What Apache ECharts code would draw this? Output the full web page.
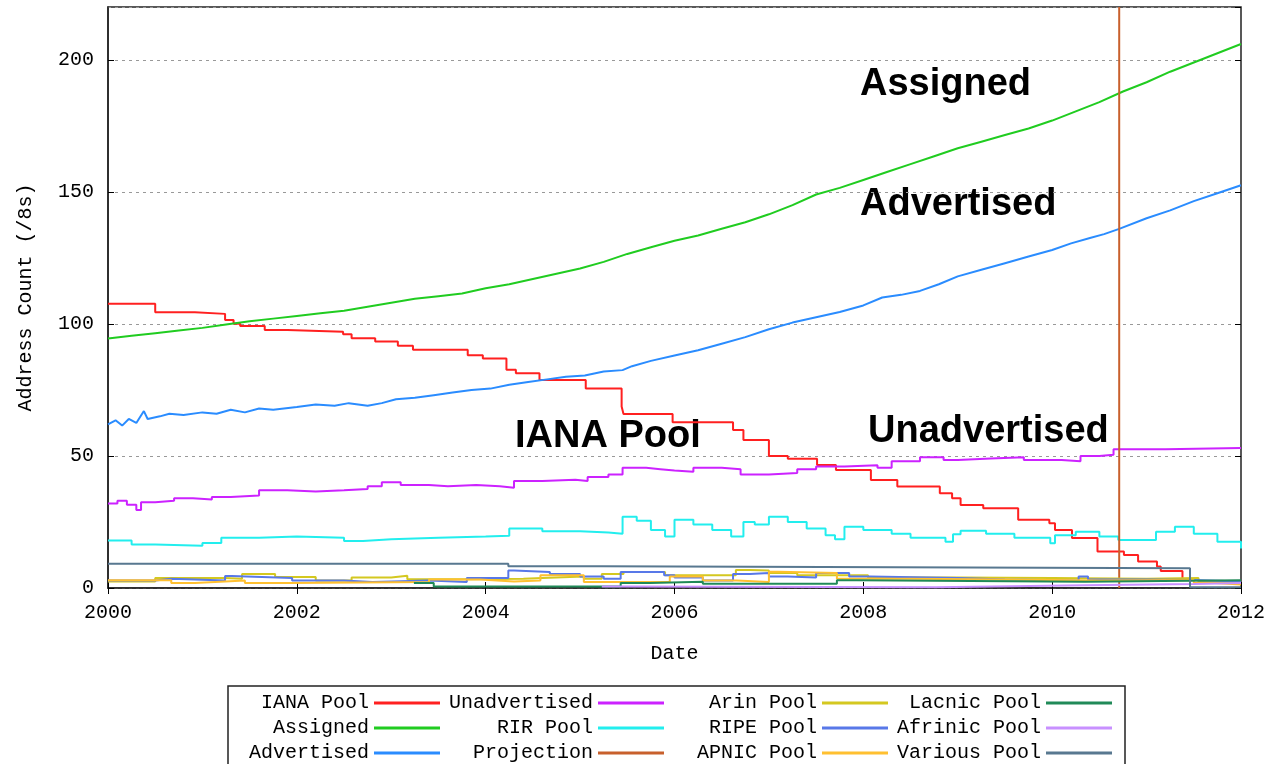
<!DOCTYPE html>
<html>
<head>
<meta charset="utf-8">
<script src="https://cdn.jsdelivr.net/npm/echarts@6/dist/echarts.min.js"></script>
<style>
  html, body { margin: 0; padding: 0; background: #fff; }
  #chart { width: 1264px; height: 764px; }
</style>
</head>
<body>
<div id="chart"></div>
<script>
// x axis ticks (years) and y range
const yearTicks = [2000, 2002, 2004, 2006, 2008, 2010, 2012];
const countTicks = [0, 50, 100, 150, 200];

// each point: [year, value]; step series change value at that year
const ianaPool = [
  [2000.0, 107.6], [2000.5, 104.4], [2000.92, 103.8], [2001.24, 101.5], [2001.33, 100.1],
  [2001.4, 99.2], [2001.66, 97.7], [2001.9, 97], [2002.49, 96.1], [2002.58, 94.6],
  [2002.83, 93.3], [2003.07, 91.7], [2003.23, 90.2], [2003.81, 88.1], [2003.97, 86.9],
  [2004.22, 82.6], [2004.32, 81.3], [2004.57, 78.8], [2005.06, 75.5], [2005.44, 68.7],
  [2005.46, 65.9], [2005.98, 62.8], [2006.62, 59.8], [2006.73, 56], [2007.0, 50],
  [2007.2, 48.9], [2007.51, 46.6], [2007.71, 44.7], [2008.08, 40.9], [2008.36, 38.4],
  [2008.81, 35.9], [2008.94, 34], [2009.03, 31.4], [2009.27, 30.2], [2009.64, 25.8],
  [2009.97, 24.5], [2010.03, 22], [2010.21, 18.9], [2010.48, 13.8], [2010.76, 12.5],
  [2010.91, 10], [2011.11, 8.1], [2011.15, 6.4], [2011.38, 3]
];
const assigned = [
  [2000.0, 94.5], [2000.25, 95.5], [2000.5, 96.5], [2000.75, 97.5], [2001.0, 98.5],
  [2001.25, 99.8], [2001.5, 101], [2001.75, 102], [2002.0, 103], [2002.25, 104],
  [2002.5, 105], [2002.75, 106.5], [2003.0, 108], [2003.25, 109.5], [2003.5, 110.5],
  [2003.75, 111.5], [2004.0, 113.5], [2004.25, 115], [2004.5, 117], [2004.75, 119],
  [2005.0, 121], [2005.25, 123.5], [2005.5, 126.5], [2005.75, 129], [2006.0, 131.5],
  [2006.25, 133.5], [2006.5, 136], [2006.75, 138.5], [2007.0, 141.5], [2007.25, 145],
  [2007.5, 149], [2007.75, 151.5], [2008.0, 154.5], [2008.25, 157.5], [2008.5, 160.5],
  [2008.75, 163.5], [2009.0, 166.5], [2009.25, 169], [2009.5, 171.5], [2009.75, 174],
  [2010.0, 177], [2010.25, 180.5], [2010.5, 184], [2010.75, 188], [2011.0, 191.5],
  [2011.25, 195.5], [2011.5, 199], [2011.75, 202.5], [2012.0, 206]
];
const advertised = [
  [2000.0, 62], [2000.08, 63.5], [2000.15, 61.5], [2000.22, 64], [2000.3, 62.5],
  [2000.38, 67], [2000.42, 64], [2000.55, 65], [2000.65, 66], [2000.8, 65.5],
  [2001.0, 66.5], [2001.15, 66], [2001.3, 67.5], [2001.45, 66.5], [2001.6, 68],
  [2001.75, 67.5], [2002.0, 68.5], [2002.2, 69.5], [2002.4, 69], [2002.55, 70],
  [2002.75, 69], [2002.9, 70], [2003.05, 71.5], [2003.25, 72], [2003.45, 73],
  [2003.65, 74], [2003.85, 75], [2004.05, 75.5], [2004.25, 77], [2004.45, 78],
  [2004.65, 79], [2004.85, 80], [2005.05, 80.5], [2005.25, 82], [2005.45, 82.5],
  [2005.55, 84], [2005.75, 86], [2006.0, 88], [2006.25, 90], [2006.5, 92.5],
  [2006.75, 95], [2007.0, 98], [2007.25, 100.5], [2007.5, 102.5], [2007.75, 104.5],
  [2008.0, 107], [2008.2, 110], [2008.4, 111], [2008.6, 112.5], [2008.8, 115],
  [2009.0, 118], [2009.25, 120.5], [2009.5, 123], [2009.75, 125.5], [2010.0, 128],
  [2010.2, 130.5], [2010.4, 132.5], [2010.55, 134], [2010.71, 136], [2011.0, 140],
  [2011.25, 143], [2011.5, 146.5], [2011.75, 149.5], [2012.0, 152.5]
];
const unadvertised = [
  [2000.0, 32], [2000.1, 33], [2000.2, 31.5], [2000.3, 29.5], [2000.35, 32.5],
  [2000.5, 33], [2000.7, 34], [2000.9, 33.5], [2001.1, 34.5], [2001.3, 35],
  [2001.6, 37], [2001.9, 36.5], [2002.2, 37], [2002.5, 37.5], [2002.75, 38.5],
  [2002.9, 40], [2003.1, 39], [2003.4, 38.5], [2003.6, 39], [2003.9, 38.5],
  [2004.15, 38], [2004.3, 40.5], [2004.6, 41], [2004.95, 40.5], [2005.08, 42],
  [2005.3, 43], [2005.45, 45.5], [2005.7, 45], [2005.85, 44.5], [2006.0, 44],
  [2006.2, 45.5], [2006.5, 45], [2006.7, 43], [2007.0, 43.5], [2007.3, 45],
  [2007.5, 46], [2007.8, 46.5], [2008.15, 45.5], [2008.3, 48], [2008.6, 49.5],
  [2008.85, 48.5], [2009.0, 49], [2009.35, 49.5], [2009.7, 48.5], [2010.1, 48],
  [2010.3, 50], [2010.5, 50.5], [2010.65, 52.5], [2011.2, 53], [2012.0, 53]
];
const rirPool = [
  [2000.0, 18], [2000.25, 16.5], [2000.5, 16], [2001.0, 17], [2001.2, 19],
  [2001.6, 19.5], [2002.0, 19], [2002.5, 17.8], [2002.7, 18.5], [2003.0, 19],
  [2003.5, 19.5], [2004.0, 19.8], [2004.25, 22.5], [2004.6, 21.5], [2005.0, 21],
  [2005.3, 20.5], [2005.45, 27], [2005.6, 25.5], [2005.75, 22], [2005.9, 19.5],
  [2006.0, 25.8], [2006.2, 24], [2006.4, 22], [2006.6, 19.5], [2006.73, 25],
  [2006.85, 24], [2007.0, 27], [2007.2, 25], [2007.4, 22.5], [2007.6, 20],
  [2007.7, 18.5], [2007.8, 23.2], [2008.0, 22], [2008.3, 20.5], [2008.5, 19],
  [2008.87, 17.5], [2008.95, 20.4], [2009.03, 21.7], [2009.3, 20.5], [2009.6, 19],
  [2009.98, 16.9], [2010.03, 20], [2010.25, 21.3], [2010.5, 19.5], [2010.7, 18.2],
  [2011.1, 21.3], [2011.3, 23.2], [2011.5, 20.5], [2011.75, 17.5], [2012.0, 15]
];
const projection = [[2010.71, 0], [2010.71, 220]];
const arinPool = [
  [2000.0, 2.5], [2000.5, 3.8], [2001.24, 3.5], [2001.42, 5.3], [2001.77, 4.2],
  [2002.2, 2.8], [2002.58, 4.0], [2003.0, 4.6], [2003.17, 3.3], [2003.8, 3.5],
  [2004.4, 3.8], [2004.6, 4.4], [2005.04, 3.5], [2005.23, 5.3], [2005.46, 6.1],
  [2005.9, 4.8], [2006.65, 6.8], [2006.8, 6.6], [2007.0, 5.7], [2007.3, 4.8],
  [2008.05, 4.0], [2009.0, 3.8], [2010.0, 3.5], [2011.0, 3.8], [2011.55, 2.3],
  [2012.0, 2.3]
];
const ripePool = [
  [2000.0, 2.8], [2000.5, 3.5], [2000.67, 2.8], [2001.24, 4.5], [2001.31, 3.8],
  [2001.95, 2.8], [2002.5, 2.3], [2002.8, 2.8], [2003.4, 2.3], [2003.8, 3.8],
  [2004.24, 6.6], [2004.3, 6.1], [2004.68, 5.3], [2005.0, 4.4], [2005.25, 3.5],
  [2005.43, 6.1], [2005.89, 4.8], [2006.0, 4.0], [2006.3, 2.8], [2006.62, 5.3],
  [2006.8, 5.7], [2007.0, 4.4], [2007.2, 4.0], [2007.5, 5.7], [2007.85, 4.4],
  [2008.07, 3.8], [2009.0, 3.2], [2009.5, 2.8], [2010.28, 4.4], [2010.38, 3.2],
  [2011.0, 3.0], [2011.5, 2.5], [2012.0, 2.5]
];
const apnicPool = [
  [2000.0, 2.9], [2000.67, 1.9], [2000.92, 2.5], [2001.24, 2.8], [2001.45, 1.9],
  [2001.91, 2.3], [2003.4, 3.2], [2003.94, 2.5], [2004.3, 2.8], [2004.58, 4.8],
  [2005.04, 2.3], [2005.95, 4.4], [2006.3, 2.8], [2006.66, 2.3], [2007.0, 6.2],
  [2007.1, 5.7], [2007.72, 3.5], [2008.5, 3.2], [2009.5, 2.8], [2010.5, 3.0],
  [2011.5, 1.9], [2011.72, 1.3], [2012.0, 1.3]
];
const lacnicPool = [
  [2003.24, 1.9], [2003.45, 0.6], [2005.23, 0.6], [2005.43, 1.9], [2005.74, 2.4],
  [2006.3, 1.6], [2007.72, 2.9], [2007.93, 2.4], [2010.35, 2.9], [2012.0, 2.9]
];
const afrinicPool = [
  [2005.23, 0.6], [2005.5, 0.3], [2008.77, 1.0], [2010.35, 1.5], [2011.5, 1.9],
  [2012.0, 1.9]
];
const variousPool = [
  [2000.0, 9.2], [2004.24, 8.2], [2005.23, 7.5], [2011.46, 0.3], [2012.0, 0.3]
];

const seriesNames = ['IANA Pool', 'Assigned', 'Advertised', 'Unadvertised', 'RIR Pool', 'Projection',
  'Arin Pool', 'RIPE Pool', 'APNIC Pool', 'Lacnic Pool', 'Afrinic Pool', 'Various Pool'];
const seriesData = [ianaPool, assigned, advertised, unadvertised, rirPool, projection,
  arinPool, ripePool, apnicPool, lacnicPool, afrinicPool, variousPool];
const colors = ['#ff2020', '#20cc20', '#2a8cff', '#cc22ff', '#22eeee', '#c8602c',
  '#d4c820', '#5878e8', '#ffc030', '#208a58', '#c890ff', '#587890'];
// smooth-ish series are drawn as plain lines, the pools as steps
const stepMode = ['end', false, false, 'end', 'end', false,
  'end', 'end', 'end', 'end', 'end', 'end'];

const mono = '"Liberation Mono", "DejaVu Sans Mono", monospace';
const bigFont = 'bold 38px "Liberation Sans", Arial, sans-serif';

let myChart = echarts.init(document.getElementById('chart'));

const series = seriesNames.map(function (name, i) {
  return {
    name: name,
    type: 'line',
    step: stepMode[i],
    data: seriesData[i],
    showSymbol: false,
    color: colors[i],
    lineStyle: { width: 2, color: colors[i] },
    z: 2 + i
  };
});

// four legend columns, text right-aligned before the line sample
const legendCols = [[0, 1, 2], [3, 4, 5], [6, 7, 8], [9, 10, 11]];
const legendRight = [824, 600, 376, 152];
const legends = legendCols.map(function (idx, c) {
  return {
    orient: 'vertical',
    align: 'right',
    right: legendRight[c],
    top: 693,
    padding: 0,
    itemGap: 5,
    itemWidth: 66,
    itemHeight: 3,
    icon: 'rect',
    selectedMode: false,
    data: idx.map(function (k) { return seriesNames[k]; }),
    textStyle: { fontFamily: mono, fontSize: 20, color: '#000', lineHeight: 20 }
  };
});

const axisText = { fontFamily: mono, fontSize: 20, color: '#000' };

myChart.setOption({
  animation: false,
  backgroundColor: '#fff',
  grid: {
    left: 108, right: 23, top: 7, bottom: 176, outerBoundsMode: 'none',
    show: true, borderColor: '#222', borderWidth: 1.5
  },
  legend: legends,
  xAxis: [
    {
      type: 'value', min: 2000, max: 2012, interval: 2,
      name: 'Date', nameLocation: 'middle', nameGap: 56,
      nameTextStyle: axisText,
      axisLine: { lineStyle: { color: '#222', width: 1.5 } },
      axisTick: { inside: true, length: 6, lineStyle: { color: '#000' } },
      axisLabel: { margin: 15, formatter: function (v) { return String(v); }, ...axisText },
      splitLine: { show: false }
    },
    {
      type: 'value', min: 2000, max: 2012, interval: 2, position: 'top',
      axisLine: { show: false },
      axisTick: { inside: true, length: 6, lineStyle: { color: '#000' } },
      axisLabel: { show: false },
      splitLine: { show: false }
    }
  ],
  yAxis: [
    {
      type: 'value', min: 0, max: 220, interval: 50,
      name: 'Address Count (/8s)', nameLocation: 'middle', nameGap: 72,
      nameTextStyle: axisText,
      axisLine: { show: true, lineStyle: { color: '#222', width: 1.5 } },
      axisTick: { show: true, inside: true, length: 6, lineStyle: { color: '#000' } },
      axisLabel: { margin: 14, showMaxLabel: false, ...axisText },
      splitLine: { show: true, lineStyle: { color: '#999', type: [3, 4], width: 1 } }
    },
    {
      type: 'value', min: 0, max: 220, interval: 50, position: 'right',
      axisLine: { show: false },
      axisTick: { show: true, inside: true, length: 6, lineStyle: { color: '#000' } },
      axisLabel: { show: false },
      splitLine: { show: false }
    }
  ],
  series: series,
  graphic: [
    { type: 'rect', shape: { x: 228, y: 686, width: 897, height: 100 },
      style: { fill: 'none', stroke: '#222', lineWidth: 1.5 }, silent: true },
    { type: 'text', x: 860, y: 85, style: { text: 'Assigned', font: bigFont, fill: '#000', verticalAlign: 'middle' } },
    { type: 'text', x: 860, y: 205, style: { text: 'Advertised', font: bigFont, fill: '#000', verticalAlign: 'middle' } },
    { type: 'text', x: 515, y: 437, style: { text: 'IANA Pool', font: bigFont, fill: '#000', verticalAlign: 'middle' } },
    { type: 'text', x: 868, y: 432, style: { text: 'Unadvertised', font: bigFont, fill: '#000', verticalAlign: 'middle' } }
  ]
});
</script>
</body>
</html>
